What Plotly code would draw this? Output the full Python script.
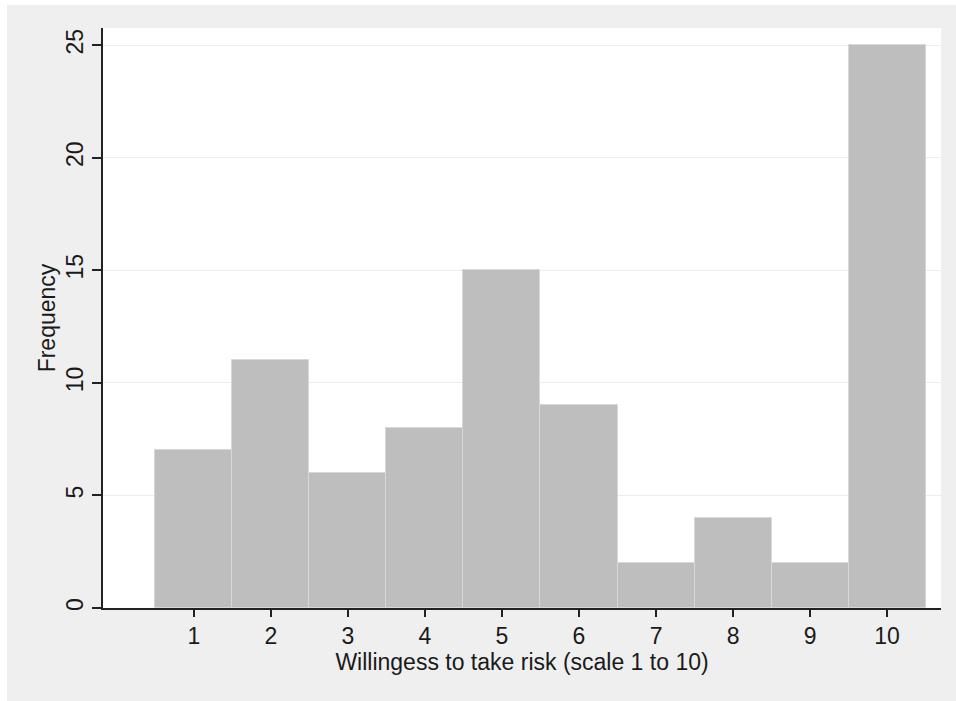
import plotly.graph_objects as go

categories = [1, 2, 3, 4, 5, 6, 7, 8, 9, 10]
frequency = [7, 11, 6, 8, 15, 9, 2, 4, 2, 25]
y_ticks = [0, 5, 10, 15, 20, 25]

W, H = 956, 701
L, R, T, B = 103, 15, 28, 93
pw, ph = W - L - R, H - T - B

def px_x(p):
    return (p - L) / pw

def px_y(p):
    return (H - B - p) / ph

FONT = "Liberation Sans, Arial, Helvetica, sans-serif"

fig = go.Figure()
fig.add_trace(go.Bar(
    x=categories, y=frequency, width=1,
    marker=dict(color="#bebebe", line=dict(color="#d8d8d8", width=1)),
    hoverinfo="x+y",
))

fig.update_layout(
    width=W, height=H,
    margin=dict(l=L, r=R, t=T, b=B, pad=0),
    paper_bgcolor="#efefef",
    plot_bgcolor="#ffffff",
    showlegend=False,
    bargap=0,
    font=dict(family=FONT, color="#1a1a1a", size=23),
    xaxis=dict(
        range=[-0.18, 10.70], tickvals=categories, ticktext=[str(c) for c in categories],
        ticks="outside", ticklen=7, tickwidth=1.5, tickcolor="#222",
        showline=True, linecolor="#222", linewidth=1.5,
        showgrid=False, zeroline=False,
        tickfont=dict(size=23),
        title=dict(text="Willingess to take risk (scale 1 to 10)", font=dict(size=23), standoff=3),
    ),
    yaxis=dict(
        range=[0, 25.76], tickvals=y_ticks,
        ticks="outside", ticklen=9, tickwidth=1.5, tickcolor="#222",
        tickangle=-90, ticklabelstandoff=0,
        showline=True, linecolor="#222", linewidth=1.5,
        showgrid=True, gridcolor="#ececec", gridwidth=1, zeroline=False,
        tickfont=dict(size=23),
        title=dict(text="Frequency", font=dict(size=23), standoff=0),
    ),
    shapes=[
        dict(type="rect", xref="paper", yref="paper", x0=px_x(0), x1=px_x(7), y0=px_y(H), y1=px_y(0),
             fillcolor="#ffffff", line=dict(width=0), layer="below"),
        dict(type="rect", xref="paper", yref="paper", x0=px_x(0), x1=px_x(W), y0=px_y(5), y1=px_y(0),
             fillcolor="#ffffff", line=dict(width=0), layer="below"),
    ],
)

fig.write_html("out.html", config={"displayModeBar": False},
               post_script="document.body.style.margin='0px';document.body.style.background='#efefef';document.documentElement.style.background='#efefef';")
